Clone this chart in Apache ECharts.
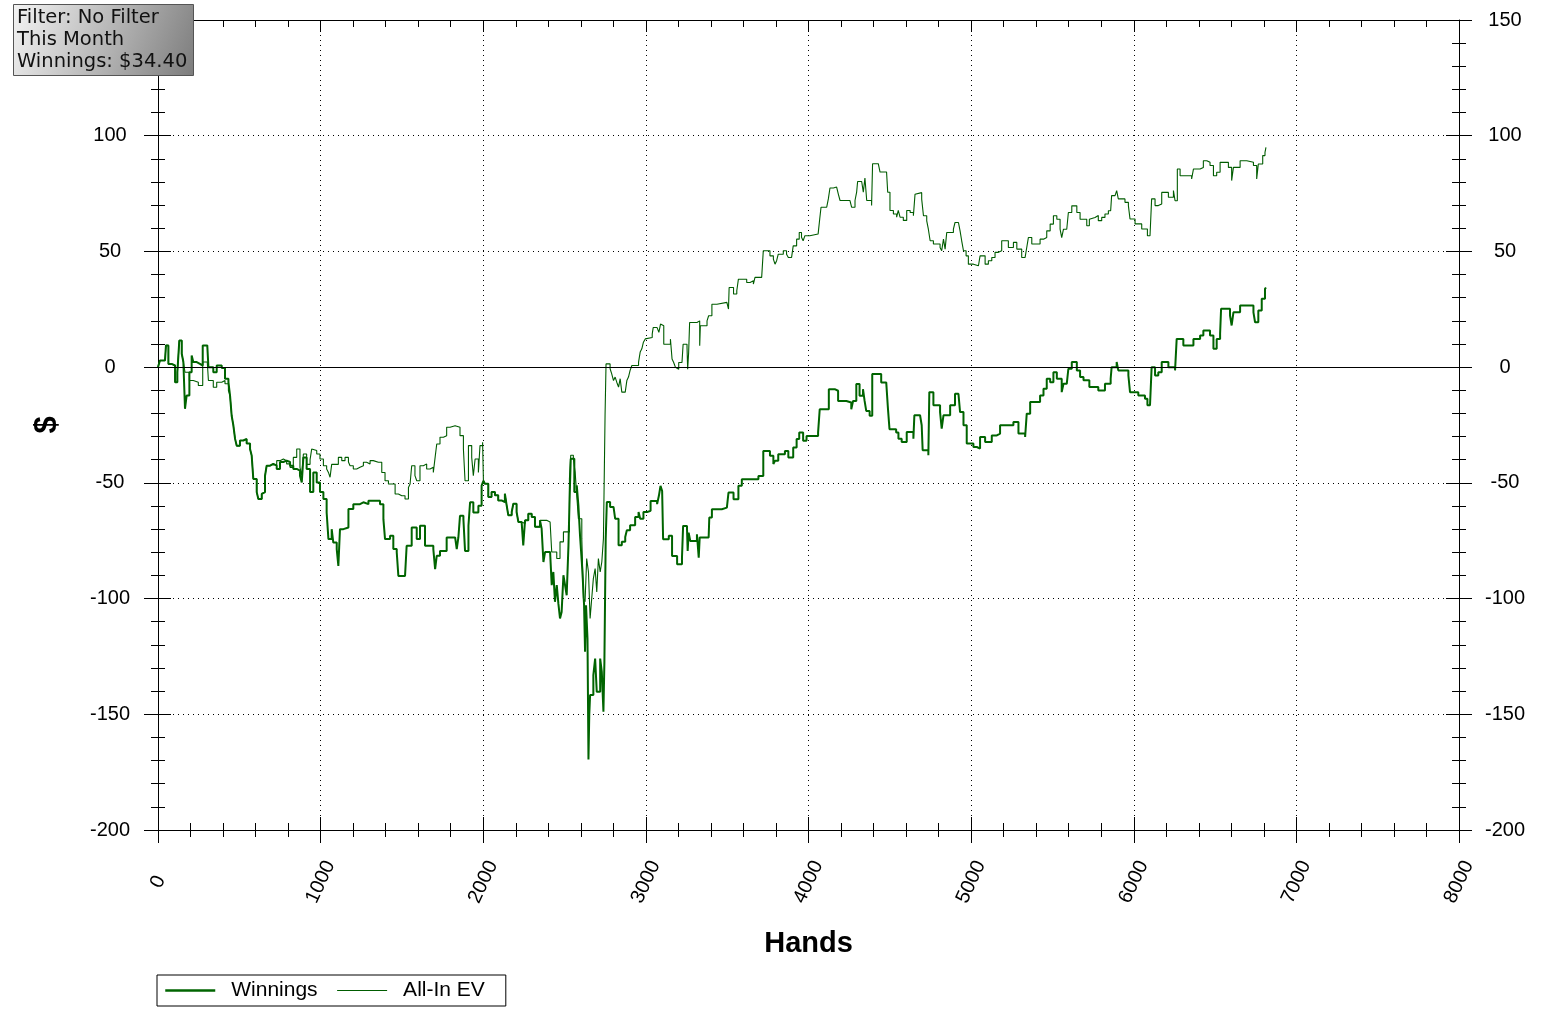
<!DOCTYPE html>
<html>
<head>
<meta charset="utf-8">
<script src="https://cdn.jsdelivr.net/npm/echarts@6/dist/echarts.min.js"></script>
<style>
html,body{margin:0;padding:0;background:#fff;}
#chart{width:1545px;height:1018px;}
</style>
</head>
<body>
<div id="chart"></div>
<script>
// Winnings (thick line): hands and cumulative $ values
const winHands = [0,12,43,49,64,84,105,119,131,146,156,166,176,193,207,217,238,258,275,303,310,340,361,392,412,433,443,453,463,474,484,504,525,545,566,576,586,607,617,638,648,658,668,689,709,730,750,771,791,812,832,853,873,884,894,914,935,955,976,996,1017,1037,1048,1068,1078,1099,1109,1119,1140,1171,1201,1242,1263,1294,1345,1365,1386,1396,1427,1447,1468,1478,1519,1529,1560,1591,1611,1642,1693,1704,1714,1734,1775,1827,1837,1847,1857,1878,1888,1909,1919,1939,1970,1990,2001,2010,2031,2051,2072,2092,2113,2133,2144,2154,2175,2185,2205,2216,2236,2246,2257,2277,2298,2318,2349,2359,2370,2380,2411,2421,2431,2441,2452,2462,2472,2482,2493,2503,2513,2524,2530,2538,2550,2560,2575,2585,2595,2606,2612,2620,2626,2632,2641,2647,2652,2657,2677,2688,2698,2719,2729,2739,2745,2753,2760,2780,2801,2811,2832,2852,2873,2883,2903,2934,2955,2965,2985,3008,3029,3069,3080,3090,3100,3106,3141,3161,3192,3222,3229,3253,3257,3263,3273,3314,3325,3331,3386,3390,3406,3467,3498,3508,3539,3569,3590,3661,3692,3722,3763,3784,3794,3814,3855,3876,3906,3927,3943,3967,3988,4059,4069,4125,4161,4172,4182,4233,4263,4274,4294,4314,4335,4345,4355,4376,4392,4447,4478,4488,4498,4539,4553,4573,4604,4645,4651,4686,4696,4702,4737,4743,4768,4809,4819,4830,4871,4901,4922,4932,4953,4973,5014,5035,5055,5086,5127,5158,5178,5260,5291,5332,5342,5363,5424,5445,5465,5486,5506,5527,5557,5568,5588,5598,5619,5650,5670,5691,5727,5752,5782,5823,5858,5864,5895,5905,5967,5977,6028,6069,6084,6100,6110,6131,6151,6172,6213,6254,6264,6305,6336,6367,6408,6428,6449,6469,6490,6510,6531,6537,6592,6602,6613,6654,6695,6736,6746,6766,6787,6807,6813];
const winValues = [0,2.9,2.2,9.4,1.4,0.7,-6.5,-2.2,11.5,5.8,2.2,-18,-12.3,-2.2,5,2.2,1.4,0.7,9.4,9.4,0,-2.2,0.7,-0.4,-5,-6.5,-12.3,-21,-25,-31,-34,-31.7,-31,-33,-35.4,-38.2,-48.3,-54,-57,-54.8,-54,-47,-42.6,-41.8,-42.6,-44,-41,-40.4,-41,-42.6,-44,-44.7,-46.9,-49.8,-39,-44,-54,-45.5,-49.8,-54,-57,-62.8,-74.3,-70,-75.8,-78.6,-85.9,-70,-69.3,-61.3,-59.2,-58.4,-59.2,-57.7,-57.7,-59.2,-65.7,-74.3,-72.9,-78.6,-80,-90.2,-89.5,-77.2,-69.3,-74.3,-68.5,-77.2,-78.6,-87.3,-81.5,-79.4,-73.6,-72.9,-78.6,-73.6,-64.2,-65.7,-79.4,-68.5,-58.4,-62.8,-59.9,-51.2,-49.1,-50.4,-56.1,-54,-55.4,-57.6,-58.3,-54.7,-59.7,-64,-62.6,-59,-62.6,-66.9,-67.6,-77,-66.2,-63.3,-64.7,-69,-66.2,-69.8,-84.2,-79.9,-80.6,-94.2,-88.5,-101.4,-94.2,-102.2,-108.6,-105.8,-89.9,-94.2,-98.6,-77,-59.7,-39.6,-39.6,-54,-51.1,-59.7,-72.7,-84.2,-91.4,-102.9,-123,-102.9,-117.3,-169.5,-150,-141.7,-133.1,-125.9,-140.3,-125.9,-131.7,-148.9,-127.3,-74.1,-58.3,-60.4,-61.2,-65.5,-77,-75.5,-73.4,-70.5,-68.3,-64.7,-62.6,-65.5,-62.6,-62.1,-57.8,-59.2,-55.6,-51.3,-53.5,-74.4,-72.9,-81.6,-85.2,-82.3,-68.6,-70,-79.4,-71.5,-75.1,-72.2,-82.3,-73.6,-73.6,-65,-61.4,-60.7,-61.4,-54.2,-57.1,-51.3,-48.4,-48.4,-47,-36.2,-38.3,-41.9,-40.5,-37.6,-36.2,-39,-34.7,-31.1,-28.2,-31.8,-29.7,-28.2,-18.2,-9.5,-8.8,-10.2,-14.6,-15.3,-18.2,-14.6,-7.3,-12.4,-9.5,-14.6,-18.9,-21,-3,-6.6,-7.3,-17.4,-26.8,-28.2,-30.9,-32.3,-28,-30.9,-20.8,-21.6,-25.1,-35.9,-38.1,-10.8,-16.5,-19.4,-26.6,-20.8,-16.5,-11.5,-12.2,-19.4,-25.1,-33,-34.5,-35.2,-30.2,-32.3,-29.5,-28.7,-25.1,-23.7,-28.7,-30.2,-20.1,-15.1,-12.2,-9.3,-5,-6.5,-2.2,-5,-10.8,-7.2,-7.9,-0.7,2.2,-1.4,-4.3,-5.7,-8.6,-8.6,-10.1,-7.2,-5,0,2.2,-1.4,-3.6,-10.8,-12.2,-13.7,-16.5,-16.5,0,-3.6,-2.2,2.2,0,-1.4,12.2,9.4,9.4,12.2,13.7,15.8,15.8,13.7,7.9,12.2,14.4,25.2,22.3,18,23.7,26.6,26.6,23.7,19.4,24.5,29.5,33.8,34.4];

// All-In EV (thin line)
const evHands = [0,12,43,49,64,84,105,119,131,146,156,166,193,217,248,275,303,310,340,361,392,412,433,443,453,463,474,484,504,525,545,566,576,586,607,617,638,648,658,668,689,709,730,750,771,791,812,832,853,873,884,894,914,935,945,955,976,996,1017,1037,1048,1058,1068,1089,1109,1130,1150,1171,1181,1201,1222,1242,1263,1283,1304,1324,1355,1376,1396,1417,1437,1458,1478,1499,1519,1540,1550,1560,1580,1591,1611,1632,1652,1673,1693,1704,1714,1734,1755,1775,1796,1827,1837,1857,1878,1888,1898,1909,1929,1939,1950,1970,1980,1996,2001,2010,2031,2051,2072,2092,2113,2133,2144,2154,2175,2185,2205,2216,2236,2257,2277,2298,2318,2349,2370,2390,2411,2421,2452,2472,2493,2517,2530,2538,2554,2565,2575,2585,2606,2616,2626,2636,2647,2657,2667,2677,2688,2698,2708,2719,2729,2739,2749,2755,2780,2790,2801,2811,2821,2832,2842,2852,2873,2883,2893,2903,2914,2955,2965,2975,2985,2996,3008,3039,3045,3069,3080,3090,3100,3110,3151,3161,3171,3182,3192,3202,3222,3229,3253,3257,3263,3269,3314,3325,3331,3335,3376,3386,3406,3437,3498,3508,3512,3539,3559,3569,3620,3641,3661,3671,3712,3722,3763,3784,3794,3804,3814,3845,3865,3876,3896,3906,3927,3943,3957,3967,3978,4008,4059,4069,4077,4112,4122,4132,4153,4173,4183,4194,4255,4265,4286,4296,4302,4327,4337,4347,4358,4388,4394,4429,4440,4480,4487,4501,4522,4542,4552,4563,4583,4604,4625,4645,4655,4666,4696,4707,4727,4737,4748,4768,4809,4819,4830,4840,4850,4891,4901,4922,4932,4942,4953,4969,4983,5014,5045,5055,5086,5106,5127,5147,5168,5188,5229,5260,5281,5311,5332,5342,5352,5373,5424,5445,5465,5486,5506,5527,5547,5557,5568,5588,5598,5619,5650,5670,5711,5727,5735,5762,5782,5803,5823,5844,5858,5864,5885,5895,5905,5946,5967,5977,6008,6049,6084,6100,6110,6131,6151,6172,6213,6244,6254,6268,6285,6336,6356,6367,6408,6428,6449,6469,6490,6510,6531,6582,6602,6613,6654,6695,6736,6756,6766,6793,6807,6813];
const evValues = [0,2.9,2.2,9.4,1.4,0.7,-6.5,-2.2,11.5,5.8,2.2,-2.2,-5.8,-6.5,-7.9,2.2,2.2,-5.8,-8.7,-6.5,-5.8,-7.2,-10.1,-12.3,-21,-25,-31,-34,-31.7,-31,-33,-35.4,-38.2,-48.3,-54,-57,-54.8,-54,-47,-42.6,-41.8,-42.6,-40.4,-39.7,-40.4,-41.8,-43.3,-39,-35.4,-43.3,-46.9,-37.5,-42,-40,-35.4,-36,-37.5,-39.7,-42.6,-44,-45.5,-47.6,-42,-42,-39,-40.4,-39,-41,-42.6,-44,-43.3,-42.6,-41.1,-41.8,-40.4,-41.1,-41.1,-45.5,-49.1,-50.5,-50.5,-54.8,-55.6,-55.6,-57,-52,-50.5,-42.6,-46.9,-49.1,-42.6,-41.8,-44,-43.3,-45.5,-39,-33.2,-30.3,-29.6,-26,-25.3,-25.3,-26,-29.6,-35.4,-49.1,-49.1,-33.9,-39,-46.9,-39.7,-45.5,-33.9,-32.5,-49.1,-50.4,-56.1,-54,-55.4,-57.6,-58.3,-54.7,-59.7,-64,-62.6,-59,-62.6,-66.9,-67.6,-66.2,-63.3,-64.7,-69,-66.2,-66.2,-66.9,-66.6,-79.9,-82.7,-75.5,-71.2,-71.2,-48.2,-38.1,-39.6,-45.3,-55.4,-65.5,-74.1,-100,-101.4,-82.7,-88.5,-108.6,-100,-91.4,-87,-97.1,-82.7,-88.5,-84.2,-74.1,-20.9,1.4,-0.7,-2.9,-5.8,-4.3,-6.5,-8.6,-5,-10.8,-10.1,-5.8,-4.3,-1.4,0.7,2.2,6.5,7.9,10.8,12.2,12.8,14.3,17.1,17.9,15,18.6,17.9,9.9,12.1,3.5,2,-0.1,-0.9,2,1.3,9.9,8.5,-0.9,6.3,19.3,19.3,20,9.2,17.9,20,22.2,27.2,28,27.2,25.1,34.4,31.6,33,38,36.6,37.3,35.9,38.8,39.5,50.3,48.1,46.7,44.5,46,48.8,50.3,48.8,47.4,48.1,52.4,55.3,58.2,56.1,54.6,56.8,57.5,58.2,64,69.1,68.4,72.7,77.4,77.8,77.1,74.9,72,71.3,69.1,72,75.6,80.2,79.9,75.6,81.7,72,69.8,87.9,87.9,84.3,84.3,75.6,67.7,66.2,64.8,67.7,64.8,63.4,67.7,66.8,65.4,74.7,75.4,72.6,65.4,63.2,59.6,54.6,53.2,51.7,50.3,55.3,51,58.2,59.6,62.5,62.5,58.9,54.6,50.3,48.1,44.5,43.8,43.1,48.1,44.5,46,47.4,49.6,50.3,54.6,51.7,53.9,51,47.4,46.7,51.7,56,53.2,55.3,56,58.9,61.8,65.4,63.9,59.6,56,59.6,59.6,66.8,69.7,66.8,63.9,61.1,63.9,64.7,65.5,63.3,64.7,66.2,67.6,68.3,74.1,73.4,76.3,72.7,71.2,69.8,64,61.9,59.7,56.8,56.8,72.7,69.8,70.5,75.5,73.4,76.3,71.9,85.6,82.7,82.7,81.3,85.6,86.3,89.2,88.5,87.1,82.7,84.2,88.5,86.3,80.6,86.3,89.2,88.5,87.1,81.3,87.8,91.4,92.8,95];

const seriesNames = ['Winnings', 'All-In EV'];
const infoLines = ['Filter: No Filter', 'This Month', 'Winnings: $34.40'];
const xName = 'Hands';
const yName = '$';

const winData = winHands.map((h, i) => [h, winValues[i]]);
const evData = evHands.map((h, i) => [h, evValues[i]]);

const chart = echarts.init(document.getElementById('chart'), null, {renderer: 'canvas'});

const labelFont = 'Liberation Sans';
const baseX = {type: 'value', min: 0, max: 8000, interval: 1000};
const baseY = {type: 'value', min: -200, max: 150, interval: 50};
const blk = {color: '#000', width: 1};

const option = {
  animation: false,
  backgroundColor: '#fff',
  grid: {left: 158, right: 86, top: 20, bottom: 188, containLabel: false},
  xAxis: [
    Object.assign({}, baseX, {
      position: 'bottom',
      axisLine: {show: true, onZero: false, lineStyle: blk},
      axisTick: {show: true, inside: false, length: 13, lineStyle: blk},
      minorTick: {show: true, splitNumber: 5, length: 7, lineStyle: blk},
      axisLabel: {rotate: 65, align: 'center', verticalAlign: 'middle', margin: 52,
                  formatter: function (v) { return String(v); },
                  fontFamily: labelFont, fontSize: 20, color: '#000'},
      splitLine: {show: true, lineStyle: {color: '#000', width: 1, type: [1, 4]}},
      name: xName, nameLocation: 'middle', nameGap: 99,
      nameTextStyle: {fontFamily: labelFont, fontWeight: 'bold', fontSize: 29, color: '#000'}
    }),
    Object.assign({}, baseX, {
      position: 'bottom',
      axisLine: {show: false, onZero: false},
      axisTick: {show: true, inside: true, length: 13, lineStyle: blk},
      minorTick: {show: true, splitNumber: 5, length: 7, lineStyle: blk},
      axisLabel: {show: false}, splitLine: {show: false}
    }),
    Object.assign({}, baseX, {
      position: 'top',
      axisLine: {show: true, onZero: false, lineStyle: blk},
      axisTick: {show: true, inside: true, length: 12, lineStyle: blk},
      minorTick: {show: true, splitNumber: 5, length: 7, lineStyle: blk},
      axisLabel: {show: false}, splitLine: {show: false}
    })
  ],
  yAxis: [
    Object.assign({}, baseY, {
      position: 'left',
      axisLine: {show: true, onZero: false, lineStyle: blk},
      axisTick: {show: true, inside: false, length: 14, lineStyle: blk},
      minorTick: {show: true, splitNumber: 5, length: 7, lineStyle: blk},
      axisLabel: {align: 'center', margin: 48, fontFamily: labelFont, fontSize: 20, color: '#000'},
      splitLine: {show: true, lineStyle: {color: '#000', width: 1, type: [1, 4]}},
      name: yName, nameLocation: 'middle', nameGap: 95, nameRotate: 90,
      nameTextStyle: {fontFamily: labelFont, fontWeight: 'bold', fontSize: 31, color: '#000'}
    }),
    Object.assign({}, baseY, {
      position: 'left',
      axisLine: {show: false, onZero: false},
      axisTick: {show: true, inside: true, length: 13, lineStyle: blk},
      minorTick: {show: true, splitNumber: 5, length: 7, lineStyle: blk},
      axisLabel: {show: false}, splitLine: {show: false}
    }),
    Object.assign({}, baseY, {
      position: 'right',
      axisLine: {show: true, onZero: false, lineStyle: blk},
      axisTick: {show: true, inside: false, length: 13, lineStyle: blk},
      minorTick: {show: true, splitNumber: 5, length: 7, lineStyle: blk},
      axisLabel: {align: 'center', margin: 46, fontFamily: labelFont, fontSize: 20, color: '#000'},
      splitLine: {show: false}
    }),
    Object.assign({}, baseY, {
      position: 'right',
      axisLine: {show: false, onZero: false},
      axisTick: {show: true, inside: true, length: 13, lineStyle: blk},
      minorTick: {show: true, splitNumber: 5, length: 7, lineStyle: blk},
      axisLabel: {show: false}, splitLine: {show: false}
    })
  ],
  legend: {
    show: true,
    data: [
      {name: seriesNames[0], lineStyle: {width: 2.5, color: '#006400'}},
      {name: seriesNames[1], lineStyle: {width: 1, color: '#005c00'}}
    ],
    left: 157, top: 975,
    orient: 'horizontal',
    itemWidth: 50, itemHeight: 14, itemGap: 19,
    padding: [5, 21, 5, 7],
    borderColor: '#000', borderWidth: 1, borderRadius: 0,
    backgroundColor: '#fff',
    itemStyle: {opacity: 0},
    textStyle: {fontFamily: labelFont, fontSize: 21, color: '#000', padding: [0, 0, 0, 11]}
  },
  graphic: [
    {
      type: 'rect', z: 100, silent: true,
      shape: {x: 13.5, y: 4.5, width: 180, height: 71},
      style: {
        fill: new echarts.graphic.LinearGradient(0, 0, 1, 1, [
          {offset: 0, color: '#f4f4f4'},
          {offset: 1, color: '#7c7c7c'}
        ]),
        stroke: '#555', lineWidth: 1
      }
    },
    {
      type: 'text', z: 101, silent: true, left: 17, top: 7,
      style: {text: infoLines.join('\n'), font: '19.5px "DejaVu Sans"', fill: '#111', lineHeight: 22}
    }
  ],
  series: [
    {
      name: seriesNames[0], type: 'line', step: 'end',
      xAxisIndex: 0, yAxisIndex: 0,
      data: winData, symbol: 'none', showSymbol: false,
      lineStyle: {color: '#006400', width: 2},
      itemStyle: {color: '#006400'},
      z: 3,
      markLine: {
        silent: true, symbol: ['none', 'none'], label: {show: false},
        lineStyle: {color: '#000', type: 'solid', width: 1},
        data: [{yAxis: 0}]
      }
    },
    {
      name: seriesNames[1], type: 'line', step: 'end',
      xAxisIndex: 0, yAxisIndex: 0,
      data: evData, symbol: 'none', showSymbol: false,
      lineStyle: {color: '#005c00', width: 1.1},
      itemStyle: {color: '#005c00'},
      z: 2
    }
  ]
};
chart.setOption(option);
</script>
</body>
</html>
